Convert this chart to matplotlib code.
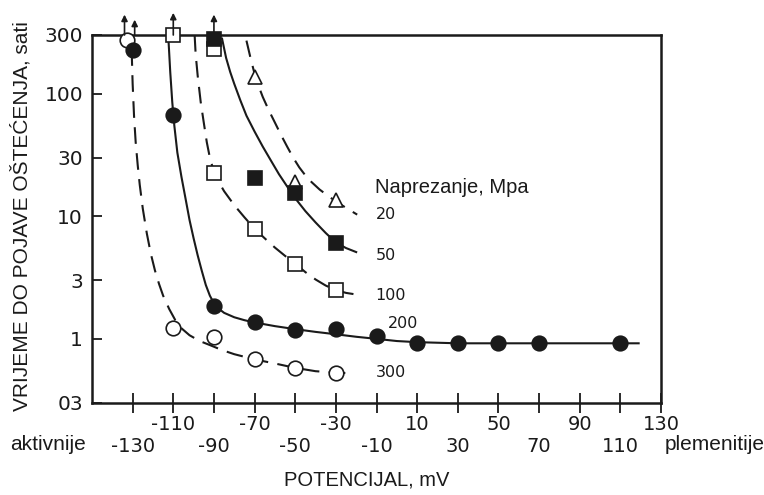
import numpy as np
import matplotlib
matplotlib.use("Agg")
import matplotlib.pyplot as plt

## ---- data ----
# measured points (potential mV, time to failure h)
x_300 = [-133, -110, -90, -70, -50, -30]
y_300 = [275, 1.23, 1.03, 0.68, 0.58, 0.53]
x_200 = [-130, -110, -90, -70, -50, -30, -10, 10, 30, 50, 70, 110]
y_200 = [226, 67, 1.84, 1.36, 1.19, 1.2, 1.06, 0.93, 0.92, 0.92, 0.92, 0.92]
x_100 = [-110, -90, -90, -70, -50, -30]
y_100 = [300, 230, 22.7, 7.85, 4.09, 2.51]
x_50 = [-90, -70, -50, -30]
y_50 = [277, 20.4, 15.4, 6.04]
x_20 = [-70, -50, -30]
y_20 = [137, 18.9, 13.6]

# hand drawn curves
cx_300 = [-130.5, -130, -129.3, -128.5, -127.5, -126.5, -125, -123, -121, -119, -117, -115,
          -112, -109, -106, -102, -97, -92, -86, -80, -70, -60, -50, -40, -30, -23]
cy_300 = [230, 120, 65, 40, 26, 18, 11.5, 7.2, 4.9, 3.6, 2.8, 2.25,
          1.75, 1.42, 1.22, 1.07, 0.96, 0.89, 0.81, 0.75, 0.68, 0.63, 0.58, 0.545, 0.53, 0.525]
cx_200 = [-112.5, -111.5, -110.5, -109.5, -108, -106, -104, -102, -100, -98, -96, -94, -92, -90,
          -88, -85, -80, -75, -70, -60, -50, -40, -30, -20, -10, 0, 10, 30, 50, 70, 110, 119]
cy_200 = [300, 150, 85, 55, 33, 21, 14, 9.3, 6.6, 4.8, 3.6, 2.75, 2.25, 1.95,
          1.78, 1.63, 1.5, 1.42, 1.36, 1.27, 1.2, 1.14, 1.09, 1.04, 1.0, 0.96, 0.94, 0.92, 0.92,
          0.92, 0.92, 0.92]
cx_100 = [-99.5, -99, -98, -96.5, -95, -93.5, -92, -90, -88, -85, -80, -75, -70, -65, -60,
          -55, -50, -45, -40, -35, -30, -25, -20]
cy_100 = [300, 210, 140, 85, 58, 40, 30, 23, 19.5, 16, 12.3, 9.8, 7.9, 6.6, 5.55,
          4.75, 4.1, 3.5, 3.05, 2.72, 2.5, 2.37, 2.3]
cx_50 = [-86, -84, -82, -80, -77, -74, -70, -66, -62, -58, -54, -50, -45, -40, -35, -30, -25, -20]
cy_50 = [280, 195, 150, 120, 88, 66, 49, 37, 28.5, 22, 17.5, 14, 11, 8.9, 7.3, 6.1, 5.5, 5.1]
cx_20 = [-74, -72, -70, -68, -66, -63, -60, -57, -54, -51, -48, -45, -42, -38, -34, -30, -25, -19.5]
cy_20 = [270, 195, 145, 115, 94, 73, 58, 46, 37, 30, 25, 21.5, 19, 16.5, 14.7, 13.2, 11.7, 10.3]

# arrows for points off the top of the scale
arrow_x = [-134, -129, -110, -90]
arrow_y0 = [300, 300, 300, 300]
arrow_y1 = [440, 400, 455, 440]

# curve labels
stress_labels = ["20", "50", "100", "200", "300"]
label_x = [-10.5, -10.5, -10.5, -4.5, -10.5]
label_y = [10.3, 4.75, 2.25, 1.33, 0.53]

xticks = list(range(-130, 131, 20))
yticks = [0.3, 1, 3, 10, 30, 100, 300]
ytick_labels = ["03", "1", "3", "10", "30", "100", "300"]

## ---- plot ----
ink = "#1a1a1a"
fig = plt.figure(figsize=(7.64, 4.95), dpi=100)
ax = fig.add_axes([92 / 764, 1 - 403 / 495, (661 - 92) / 764, (403 - 35) / 495])

dash = (0, (8, 4.5))
ax.plot(cx_300, cy_300, color=ink, lw=1.5, ls=dash)
ax.plot(cx_200, cy_200, color=ink, lw=1.5)
ax.plot(cx_100, cy_100, color=ink, lw=1.5, ls=dash)
ax.plot(cx_50, cy_50, color=ink, lw=1.5)
ax.plot(cx_20, cy_20, color=ink, lw=1.5, ls=dash)

mk = dict(ls="none", mec=ink, mew=1.2, clip_on=False)
ax.plot(x_300, y_300, marker="o", ms=10.5, mfc="white", zorder=3, **mk)
ax.plot(x_100, y_100, marker="s", ms=10, mfc="white", zorder=3, **mk)
ax.plot(x_20, y_20, marker="^", ms=10, mfc="white", zorder=3, **mk)
ax.plot(x_200, y_200, marker="o", ms=10.5, mfc=ink, zorder=4, **mk)
ax.plot(x_50, y_50, marker="s", ms=10, mfc=ink, zorder=4, **mk)

for xa, y0, y1 in zip(arrow_x, arrow_y0, arrow_y1):
    ax.annotate("", xy=(xa, y1), xytext=(xa, y0), annotation_clip=False,
                arrowprops=dict(arrowstyle="-|>", color=ink, lw=1.2,
                                mutation_scale=9, shrinkA=0, shrinkB=0))

for s, lx, ly in zip(stress_labels, label_x, label_y):
    ax.text(lx, ly, s, fontsize=11.5, ha="left", va="center", color=ink)
ax.text(-10.5, 17, "Naprezanje, Mpa", fontsize=14.5, family="Liberation Sans",
        ha="left", va="center", color=ink)

ax.set_yscale("log")
ax.set_xlim(-150, 130)
ax.set_ylim(0.3, 300)
ax.set_yticks(yticks)
ax.set_yticklabels(ytick_labels)
ax.yaxis.set_minor_locator(matplotlib.ticker.NullLocator())
ax.set_xticks(xticks)
ax.set_xticklabels([("%d" % v) if i % 2 else ("\n%d" % v) for i, v in enumerate(xticks)])
ax.tick_params(axis="y", direction="in", length=7, width=1.3, labelsize=14.5, pad=6.5, colors=ink)
ax.tick_params(axis="x", direction="inout", length=14, width=1.3, labelsize=14, pad=2, colors=ink)
for sp in ax.spines.values():
    sp.set_linewidth(1.8)
    sp.set_color(ink)

fig.text(21 / 764, 1 - 216 / 495, "VRIJEME DO POJAVE OŠTEĆENJA, sati", rotation=90,
         fontsize=15, family="Liberation Sans", ha="center", va="center", color=ink)
fig.text(10 / 764, 1 - 445 / 495, "aktivnije", fontsize=15, family="Liberation Sans",
         ha="left", va="center", color=ink)
fig.text(665 / 764, 1 - 445 / 495, "plemenitije", fontsize=15, family="Liberation Sans",
         ha="left", va="center", color=ink)
fig.text(367 / 764, 1 - 480 / 495, "POTENCIJAL, mV", fontsize=14.5, family="Liberation Sans",
         ha="center", va="center", color=ink)

fig.savefig("out.png", dpi=100)
